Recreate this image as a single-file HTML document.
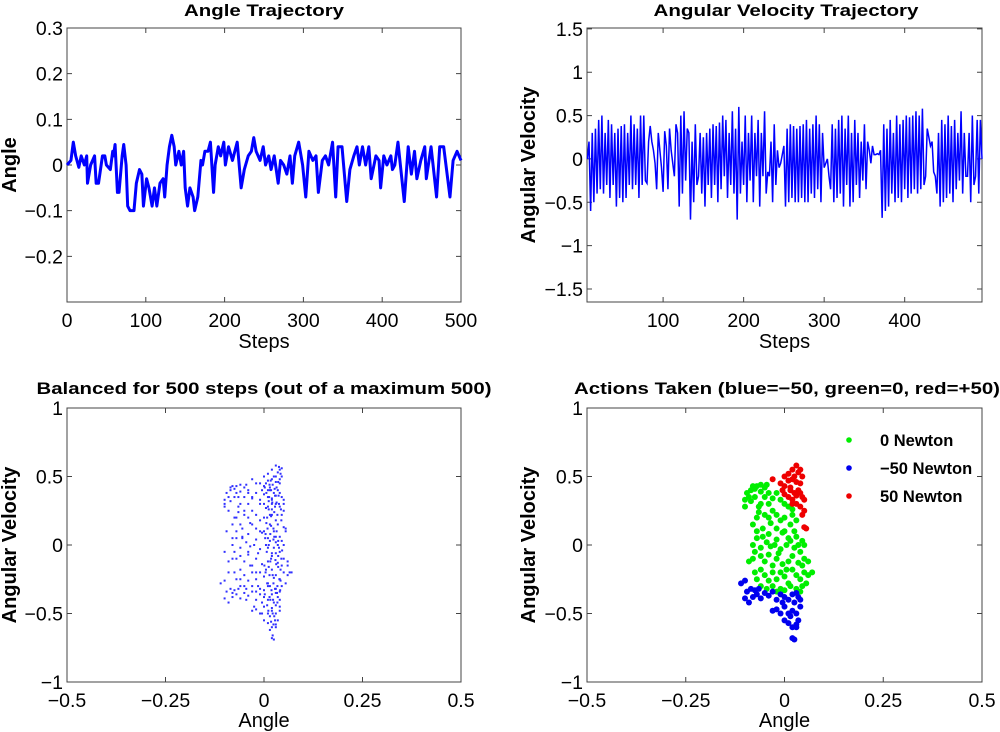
<!DOCTYPE html>
<html><head><meta charset="utf-8"><style>
html,body{margin:0;padding:0;background:#fff;}
svg{display:block;font-family:"Liberation Sans",Arial,sans-serif;}
</style></head><body>
<svg id="fig" width="1000" height="732" viewBox="0 0 1000 732" xmlns="http://www.w3.org/2000/svg"></svg>
<script>
// ---- data ----
const angleSteps=[0,5,8,11,15,18,22,25,26,30,35,37,40,45,48,50,55,58,59,61,64,66,70,72,75,77,80,85,88,92,95,97,101,104,108,111,114,118,122,124,127,130,133,136,138,142,145,148,150,153,156,160,162,166,170,172,175,179,182,186,188,192,195,199,201,205,210,216,221,225,230,234,237,240,245,249,252,256,259,263,268,271,275,279,283,286,289,294,299,303,307,312,316,319,324,328,332,337,341,344,349,355,359,364,368,371,375,379,383,386,392,396,398,402,406,411,413,416,420,428,433,437,441,444,449,454,456,462,469,473,478,486,490,495,500];
const angleValues=[0,0.01,0.05,0.02,-0.005,0.02,0.0,0.02,-0.04,0.0,0.02,-0.04,-0.04,0.02,0.02,0.0,-0.01,0.03,0.02,0.045,-0.06,-0.06,0.02,0.045,0.0,-0.09,-0.1,-0.1,-0.04,-0.01,-0.02,-0.09,-0.03,-0.05,-0.09,-0.05,-0.09,-0.04,-0.03,-0.07,0.0,0.04,0.065,0.04,0.0,0.03,0.0,0.03,-0.05,-0.09,-0.05,-0.07,-0.1,-0.07,0.01,0.0,0.03,0.03,0.05,-0.06,0.0,0.04,0.02,0.05,0.0,0.04,0.01,0.05,-0.05,-0.01,0.02,0.03,0.06,0.03,0.01,0.04,0.0,0.02,-0.01,0.02,-0.04,0.01,0.0,-0.02,0.02,-0.04,0.02,0.05,0.0,-0.07,0.03,0.01,0.02,-0.06,0.01,0.02,0.0,0.05,-0.07,0.04,0.04,-0.08,-0.01,0.02,0.04,0.0,0.04,0.0,0.04,-0.03,0.02,0.01,-0.05,0.02,0.0,0.02,-0.01,0.0,0.05,-0.08,0.04,-0.02,0.03,-0.03,0.01,0.04,-0.03,0.04,-0.07,0.04,0.04,-0.07,0.01,0.03,0.01];
const velFirstStep=6, velLastStep=496;
const velValues=[0.0,0.2,-0.6,0.3,-0.5,0.35,-0.4,0.45,-0.35,0.5,-0.4,0.3,-0.3,0.45,-0.45,0.4,-0.3,0.3,-0.55,0.35,-0.45,0.38,-0.5,0.4,-0.45,0.3,-0.3,0.5,-0.35,0.4,-0.3,0.35,-0.45,0.5,-0.3,0.5,
-0.25,-0.28,0.2,0.38,0.2,0.1,-0.05,-0.35,0.3,0.1,-0.1,-0.38,0.32,0.15,-0.35,0.35,0.1,-0.05,-0.2,0.4,0.3,-0.55,0.5,-0.4,0.55,-0.25,0.35,
0.3,-0.7,0.2,-0.5,0.4,-0.3,-0.2,0.3,-0.4,0.25,-0.55,0.3,-0.3,0.35,-0.45,0.4,-0.3,0.38,-0.5,0.42,-0.35,0.5,-0.2,0.45,-0.45,
0.3,-0.3,0.55,-0.4,0.35,-0.7,0.6,-0.4,0.2,-0.3,0.5,-0.5,0.3,-0.25,0.5,-0.5,0.3,-0.2,0.45,-0.55,0.3,-0.2,0.55,-0.4,-0.15,-0.2,0.2,-0.5,0.4,-0.3,0.1,-0.1,-0.05,0.05,0.15,
-0.55,0.35,-0.5,0.4,-0.45,0.38,-0.5,0.35,-0.5,0.38,-0.45,0.4,-0.5,0.45,-0.5,0.35,-0.4,0.4,-0.45,0.5,-0.35,0.4,-0.5,0.3,-0.1,
-0.05,0.0,-0.2,-0.35,0.4,-0.5,0.35,-0.45,0.45,-0.4,0.5,-0.55,0.35,-0.3,0.5,-0.55,0.3,-0.5,0.45,-0.3,
0.3,-0.45,0.2,-0.25,0.4,-0.35,0.2,0.1,-0.05,0.15,0.05,0.05,0.06,0.05,0.1,
-0.68,0.4,-0.6,0.35,-0.55,0.45,-0.4,0.3,-0.5,0.5,-0.45,0.4,-0.5,0.45,-0.35,0.5,-0.45,0.48,-0.4,0.5,-0.35,0.55,-0.4,0.5,-0.35,0.58,-0.3,-0.2,0.35,0.25,0.15,0.2,-0.15,-0.2,-0.4,
0.3,-0.55,0.45,-0.5,0.4,-0.45,0.5,-0.4,0.38,-0.5,0.45,-0.35,0.3,-0.25,0.55,-0.4,0.3,-0.2,-0.2,0.3,-0.5,0.5,-0.3,-0.2,0.45,-0.4,0.45,0.0];
const greenPts=[[-0.1,0.33],[-0.095,0.38],[-0.09,0.35],[-0.085,0.4],[-0.08,0.43],[-0.075,0.41],[-0.07,0.43],[-0.06,0.44],[-0.05,0.42],[-0.045,0.44],[-0.04,0.38],[-0.03,0.34],[-0.02,0.38],[-0.01,0.33],[0.0,0.3],[0.01,0.28],[0.02,0.26],[-0.1,0.28],[-0.085,0.32],[-0.075,0.35],[-0.06,0.3],[-0.05,0.35],[-0.07,0.2],[-0.065,0.24],[-0.05,0.22],[-0.04,0.2],[-0.03,0.25],[-0.02,0.22],[-0.01,0.18],[0.0,0.2],[0.015,0.15],[0.03,0.18],[0.025,0.1],[-0.08,0.15],[-0.07,0.1],[-0.055,0.12],[-0.04,0.08],[-0.02,0.12],[-0.005,0.09],[0.01,0.05],[0.03,0.06],[0.045,0.03],[-0.08,0.0],[-0.07,0.05],[-0.06,-0.02],[-0.045,0.02],[-0.035,-0.01],[-0.02,0.04],[-0.01,-0.03],[0.005,0.0],[0.015,0.03],[0.025,-0.02],[0.04,-0.05],[0.05,0.0],[0.05,-0.1],[-0.08,-0.1],[-0.075,-0.05],[-0.06,-0.08],[-0.05,-0.12],[-0.04,-0.07],[-0.03,-0.15],[-0.02,-0.1],[-0.005,-0.14],[0.01,-0.12],[0.02,-0.08],[0.035,-0.13],[-0.075,-0.2],[-0.07,-0.25],[-0.06,-0.18],[-0.05,-0.22],[-0.04,-0.26],[-0.03,-0.2],[-0.02,-0.25],[-0.01,-0.2],[0.0,-0.23],[0.01,-0.28],[0.02,-0.18],[0.03,-0.22],[0.04,-0.25],[0.05,-0.2],[0.06,-0.22],[0.07,-0.2],[0.055,-0.28],[0.045,-0.3],[-0.06,-0.3],[-0.045,-0.32],[-0.03,-0.3],[-0.02,-0.34],[-0.01,-0.32],[0.0,-0.33],[0.015,-0.3],[0.03,-0.32],[0.04,-0.34],[-0.065,0.28],[-0.04,0.3],[-0.06,0.39],[-0.035,0.16],[0.0,0.1],[-0.025,0.0],[0.035,0.0],[-0.015,-0.06],[0.005,-0.18],[0.045,-0.15],[-0.055,0.06],[0.02,0.22],[-0.09,-0.12],[0.06,-0.12]];
const redPts=[[0.0,0.5],[0.01,0.52],[0.02,0.55],[0.03,0.58],[0.035,0.53],[0.04,0.55],[0.045,0.5],[-0.03,0.48],[-0.01,0.45],[0.0,0.43],[0.01,0.47],[0.02,0.48],[0.03,0.46],[0.04,0.45],[0.015,0.4],[0.025,0.38],[0.035,0.4],[0.0,0.37],[0.01,0.35],[0.02,0.33],[0.03,0.3],[0.045,0.35],[0.05,0.33],[0.04,0.28],[0.045,0.22],[0.05,0.25],[0.05,0.13],[0.055,0.12],[0.015,0.42],[0.025,0.5],[0.03,0.36],[0.02,0.3],[-0.005,0.4],[0.04,0.38]];
const bluePts=[[-0.11,-0.28],[-0.1,-0.26],[-0.1,-0.39],[-0.095,-0.34],[-0.09,-0.42],[-0.085,-0.32],[-0.08,-0.38],[-0.075,-0.33],[-0.07,-0.36],[-0.065,-0.32],[-0.06,-0.39],[-0.05,-0.35],[-0.04,-0.37],[-0.03,-0.34],[-0.02,-0.4],[-0.01,-0.36],[0.0,-0.38],[0.01,-0.4],[0.02,-0.36],[0.03,-0.35],[0.04,-0.4],[0.04,-0.45],[-0.03,-0.48],[-0.02,-0.47],[-0.01,-0.5],[0.0,-0.45],[0.01,-0.5],[0.02,-0.48],[0.03,-0.5],[0.0,-0.55],[0.01,-0.57],[0.02,-0.6],[0.03,-0.58],[0.03,-0.6],[0.015,-0.52],[0.025,-0.42],[0.035,-0.55],[0.02,-0.68],[0.025,-0.69],[-0.005,-0.42],[0.035,-0.38]];
const stateExtraPts=[[0.005,0.45],[0.012,0.32],[0.018,0.21],[0.024,0.12],[0.03,0.02],[0.036,-0.08],[0.042,-0.18],[0.008,-0.28],[0.014,-0.38],[0.02,-0.46],[0.026,-0.52],[0.032,0.42],[0.038,0.3],[0.044,0.18],[0.004,0.08],[0.01,-0.02],[0.016,-0.12],[0.022,-0.22],[0.028,-0.32],[0.034,-0.42],[0.04,0.48],[0.006,0.38],[0.012,0.26],[0.018,0.14],[0.024,0.04],[0.03,-0.06],[0.036,-0.16],[0.042,-0.26],[0.002,-0.36],[0.008,-0.44],[0.014,0.44],[0.02,0.34],[0.026,0.24],[0.032,0.1],[0.038,-0.02],[0.044,-0.1],[0.004,-0.2],[0.01,-0.3],[0.016,-0.4],[0.022,-0.5],[0.028,0.36],[0.034,0.22],[0.04,0.06],[0.046,-0.04],[0.006,0.16],[0.012,0.0],[0.018,-0.1],[0.024,-0.28],[0.03,-0.44],[0.036,0.46],[0.042,0.52],[0.045,0.56],[0.038,0.57],[0.015,-0.62],[0.022,-0.66],[0.018,0.4],[0.028,0.28],[0.008,0.2],[0.034,-0.3],[0.02,-0.06],[0.06,-0.15],[0.065,-0.2],[0.055,0.1],[0.05,0.3],[-0.1,0.3],[-0.095,0.1],[-0.09,-0.2],[-0.085,0.42],[-0.08,-0.35],[-0.075,0.2],[-0.07,-0.1],[-0.065,0.35],[-0.06,-0.25],[-0.055,0.05],[-0.05,0.25],[-0.045,-0.4],[-0.04,0.4],[-0.035,-0.15],[-0.03,0.15],[-0.025,-0.45],[-0.02,0.45],[-0.015,-0.3],[-0.01,0.3],[-0.005,-0.5],[-0.1,-0.05],[-0.09,0.25],[-0.08,0.05],[-0.07,0.38],[-0.06,0.15],[-0.05,-0.3],[-0.04,-0.05],[-0.03,0.35],[-0.02,-0.2],[-0.01,0.1],
[0.003,0.05],[0.009,0.12],[0.015,0.22],[0.021,0.31],[0.027,0.41],[0.033,-0.35],[0.039,-0.25],[0.001,-0.15],[0.007,-0.05],[0.013,0.35],[0.019,-0.33],[0.025,-0.24],[0.031,-0.14],[0.037,0.36],[0.043,0.26],[0.011,-0.48],[0.017,0.47],[0.023,-0.4],[0.029,-0.11],[0.035,0.15],[0.041,-0.33],[0.005,0.27],[0.014,-0.22],[0.026,0.06],[0.032,0.31],[0.002,0.42],[0.016,0.08],[0.024,-0.58],[0.028,-0.55],[0.018,-0.56],[0.03,0.5],[0.022,0.44],[0.01,0.4],[0.04,-0.48],[0.012,-0.16],[0.036,0.03]];
const tlYTicks=[0.3,0.2,0.1,0,-0.1,-0.2], tlYLabels=["0.3","0.2","0.1","0","\u22120.1","\u22120.2"];
const stepTicks=[0,100,200,300,400,500], stepLabels=["0","100","200","300","400","500"];
const trXTicks=[100,200,300,400], trXLabels=["100","200","300","400"];
const trYTicks=[1.5,1,0.5,0,-0.5,-1,-1.5], trYLabels=["1.5","1","0.5","0","\u22120.5","\u22121","\u22121.5"];
const scXTicks=[-0.5,-0.25,0,0.25,0.5], scXLabels=["\u22120.5","\u22120.25","0","0.25","0.5"];
const scYTicks=[1,0.5,0,-0.5,-1], scYLabels=["1","0.5","0","\u22120.5","\u22121"];

// ---- drawing ----
const NS="http://www.w3.org/2000/svg";
const svg=document.getElementById('fig');
function mk(tag,attrs,parent){const e=document.createElementNS(NS,tag);for(const k in attrs)e.setAttribute(k,attrs[k]);(parent||svg).appendChild(e);return e;}
function lin(d0,d1,r0,r1){return v=>r0+(v-d0)/(d1-d0)*(r1-r0);}

function axes(p){
  const g=mk('g',{});
  
  
  const box=mk('rect',{x:p.x0,y:p.y0,width:p.x1-p.x0,height:p.y1-p.y0,fill:'#fff',stroke:'#444','stroke-width':1},g);
  
  
  p.xt.forEach((t,i)=>{
    const x=p.sx(t);
    const tk=mk('path',{d:`M${x},${p.y1}v-5M${x},${p.y0}v5`,stroke:'#444','stroke-width':1},g);
    
    
    const tx=mk('text',{x:x,y:p.y1+25,'font-size':19.5,'text-anchor':'middle',fill:'#000'},g);
    tx.textContent=p.xl[i];
    
    
  });
  p.yt.forEach((t,i)=>{
    const y=p.sy(t);
    const tk=mk('path',{d:`M${p.x0},${y}h5M${p.x1},${y}h-5`,stroke:'#444','stroke-width':1},g);
    
    
    const tx=mk('text',{x:p.x0-4,y:y+7,'font-size':19.5,'text-anchor':'end',fill:'#000'},g);
    tx.textContent=p.yl[i];
    
    
  });
  const ti=mk('text',{x:p.tx,y:p.ty,'font-size':17,'font-weight':'bold','text-anchor':'middle',textLength:p.tw,lengthAdjust:'spacingAndGlyphs'},g);
  ti.textContent=p.title;
  
  
  const xl=mk('text',{x:(p.x0+p.x1)/2,y:p.xly,'font-size':20,'text-anchor':'middle'},g);
  xl.textContent=p.xlabel;
  
  
  const yc=(p.y0+p.y1)/2;
  const yl=mk('text',{x:p.ylx,y:yc,'font-size':20,'font-weight':'bold','text-anchor':'middle',transform:`rotate(-90 ${p.ylx} ${yc})`},g);
  yl.textContent=p.ylabel;
  
  
  return g;
}

// Top-left
const tlx=lin(0,500,67,461), tly=lin(-0.3,0.3,302,28);
const g1=axes({name:'angle-trajectory-chart',x0:67,x1:461,y0:28,y1:302,sx:tlx,sy:tly,xt:stepTicks,xl:stepLabels,yt:tlYTicks,yl:tlYLabels,title:'Angle Trajectory',tx:264,ty:16,tw:160,xlabel:'Steps',xly:348,ylabel:'Angle',ylx:16});
const l1=mk('polyline',{points:angleSteps.map((s,i)=>tlx(s)+','+tly(angleValues[i])).join(' '),fill:'none',stroke:'#0000ff','stroke-width':3,'stroke-linejoin':'round'},g1);



// Top-right
const trx=lin(5.5,496,587,982), tr_y=lin(-1.65,1.51,302,28);
const g2=axes({name:'angular-velocity-trajectory-chart',x0:587,x1:982,y0:28,y1:302,sx:trx,sy:tr_y,xt:trXTicks,xl:trXLabels,yt:trYTicks,yl:trYLabels,title:'Angular Velocity Trajectory',tx:786,ty:16,tw:265,xlabel:'Steps',xly:348,ylabel:'Angular Velocity',ylx:535});
const stride=(velLastStep-velFirstStep)/(velValues.length-1);
const l2=mk('polyline',{points:velValues.map((v,i)=>trx(velFirstStep+i*stride)+','+tr_y(v)).join(' '),fill:'none',stroke:'#0000ff','stroke-width':1.5},g2);



// Bottom-left
const blx=lin(-0.5,0.5,67,461), bly=lin(-1,1,682,408);
const g3=axes({name:'balanced-state-scatter',x0:67,x1:461,y0:408,y1:682,sx:blx,sy:bly,xt:scXTicks,xl:scXLabels,yt:scYTicks,yl:scYLabels,title:'Balanced for 500 steps (out of a maximum 500)',tx:264,ty:394,tw:455,xlabel:'Angle',xly:727,ylabel:'Angular Velocity',ylx:16});
[greenPts,redPts,bluePts,stateExtraPts].forEach(arr=>arr.forEach(p=>{
  const c=mk('rect',{x:blx(p[0])-1,y:bly(p[1])-1,width:2,height:2,fill:'#3030ff'},g3);
  
  
}));

// Bottom-right
const brx=lin(-0.5,0.5,587,982), bry=lin(-1,1,682,408);
const g4=axes({name:'actions-taken-scatter',x0:587,x1:982,y0:408,y1:682,sx:brx,sy:bry,xt:scXTicks,xl:scXLabels,yt:scYTicks,yl:scYLabels,title:'Actions Taken (blue=\u221250, green=0, red=+50)',tx:787,ty:394,tw:426,xlabel:'Angle',xly:727,ylabel:'Angular Velocity',ylx:535});
[[greenPts,'#00ee00','action-zero-point'],[bluePts,'#0000ee','action-minus50-point'],[redPts,'#ee0000','action-plus50-point']].forEach(s=>{
  s[0].forEach(p=>{
    const c=mk('circle',{cx:brx(p[0]),cy:bry(p[1]),r:3,fill:s[1]},g4);
    
    
  });
});
const legend=mk('g',{},g4);


[['0 Newton','#00ee00',440],['\u221250 Newton','#0000ee',468],['50 Newton','#ee0000',496]].forEach(e=>{
  const c=mk('circle',{cx:849,cy:e[2],r:2.8,fill:e[1]},legend);
  
  
  const t=mk('text',{x:880,y:e[2]+6,'font-size':16.5,'font-weight':'bold'},legend);
  t.textContent=e[0];
  
  
});
</script>
</body></html>
